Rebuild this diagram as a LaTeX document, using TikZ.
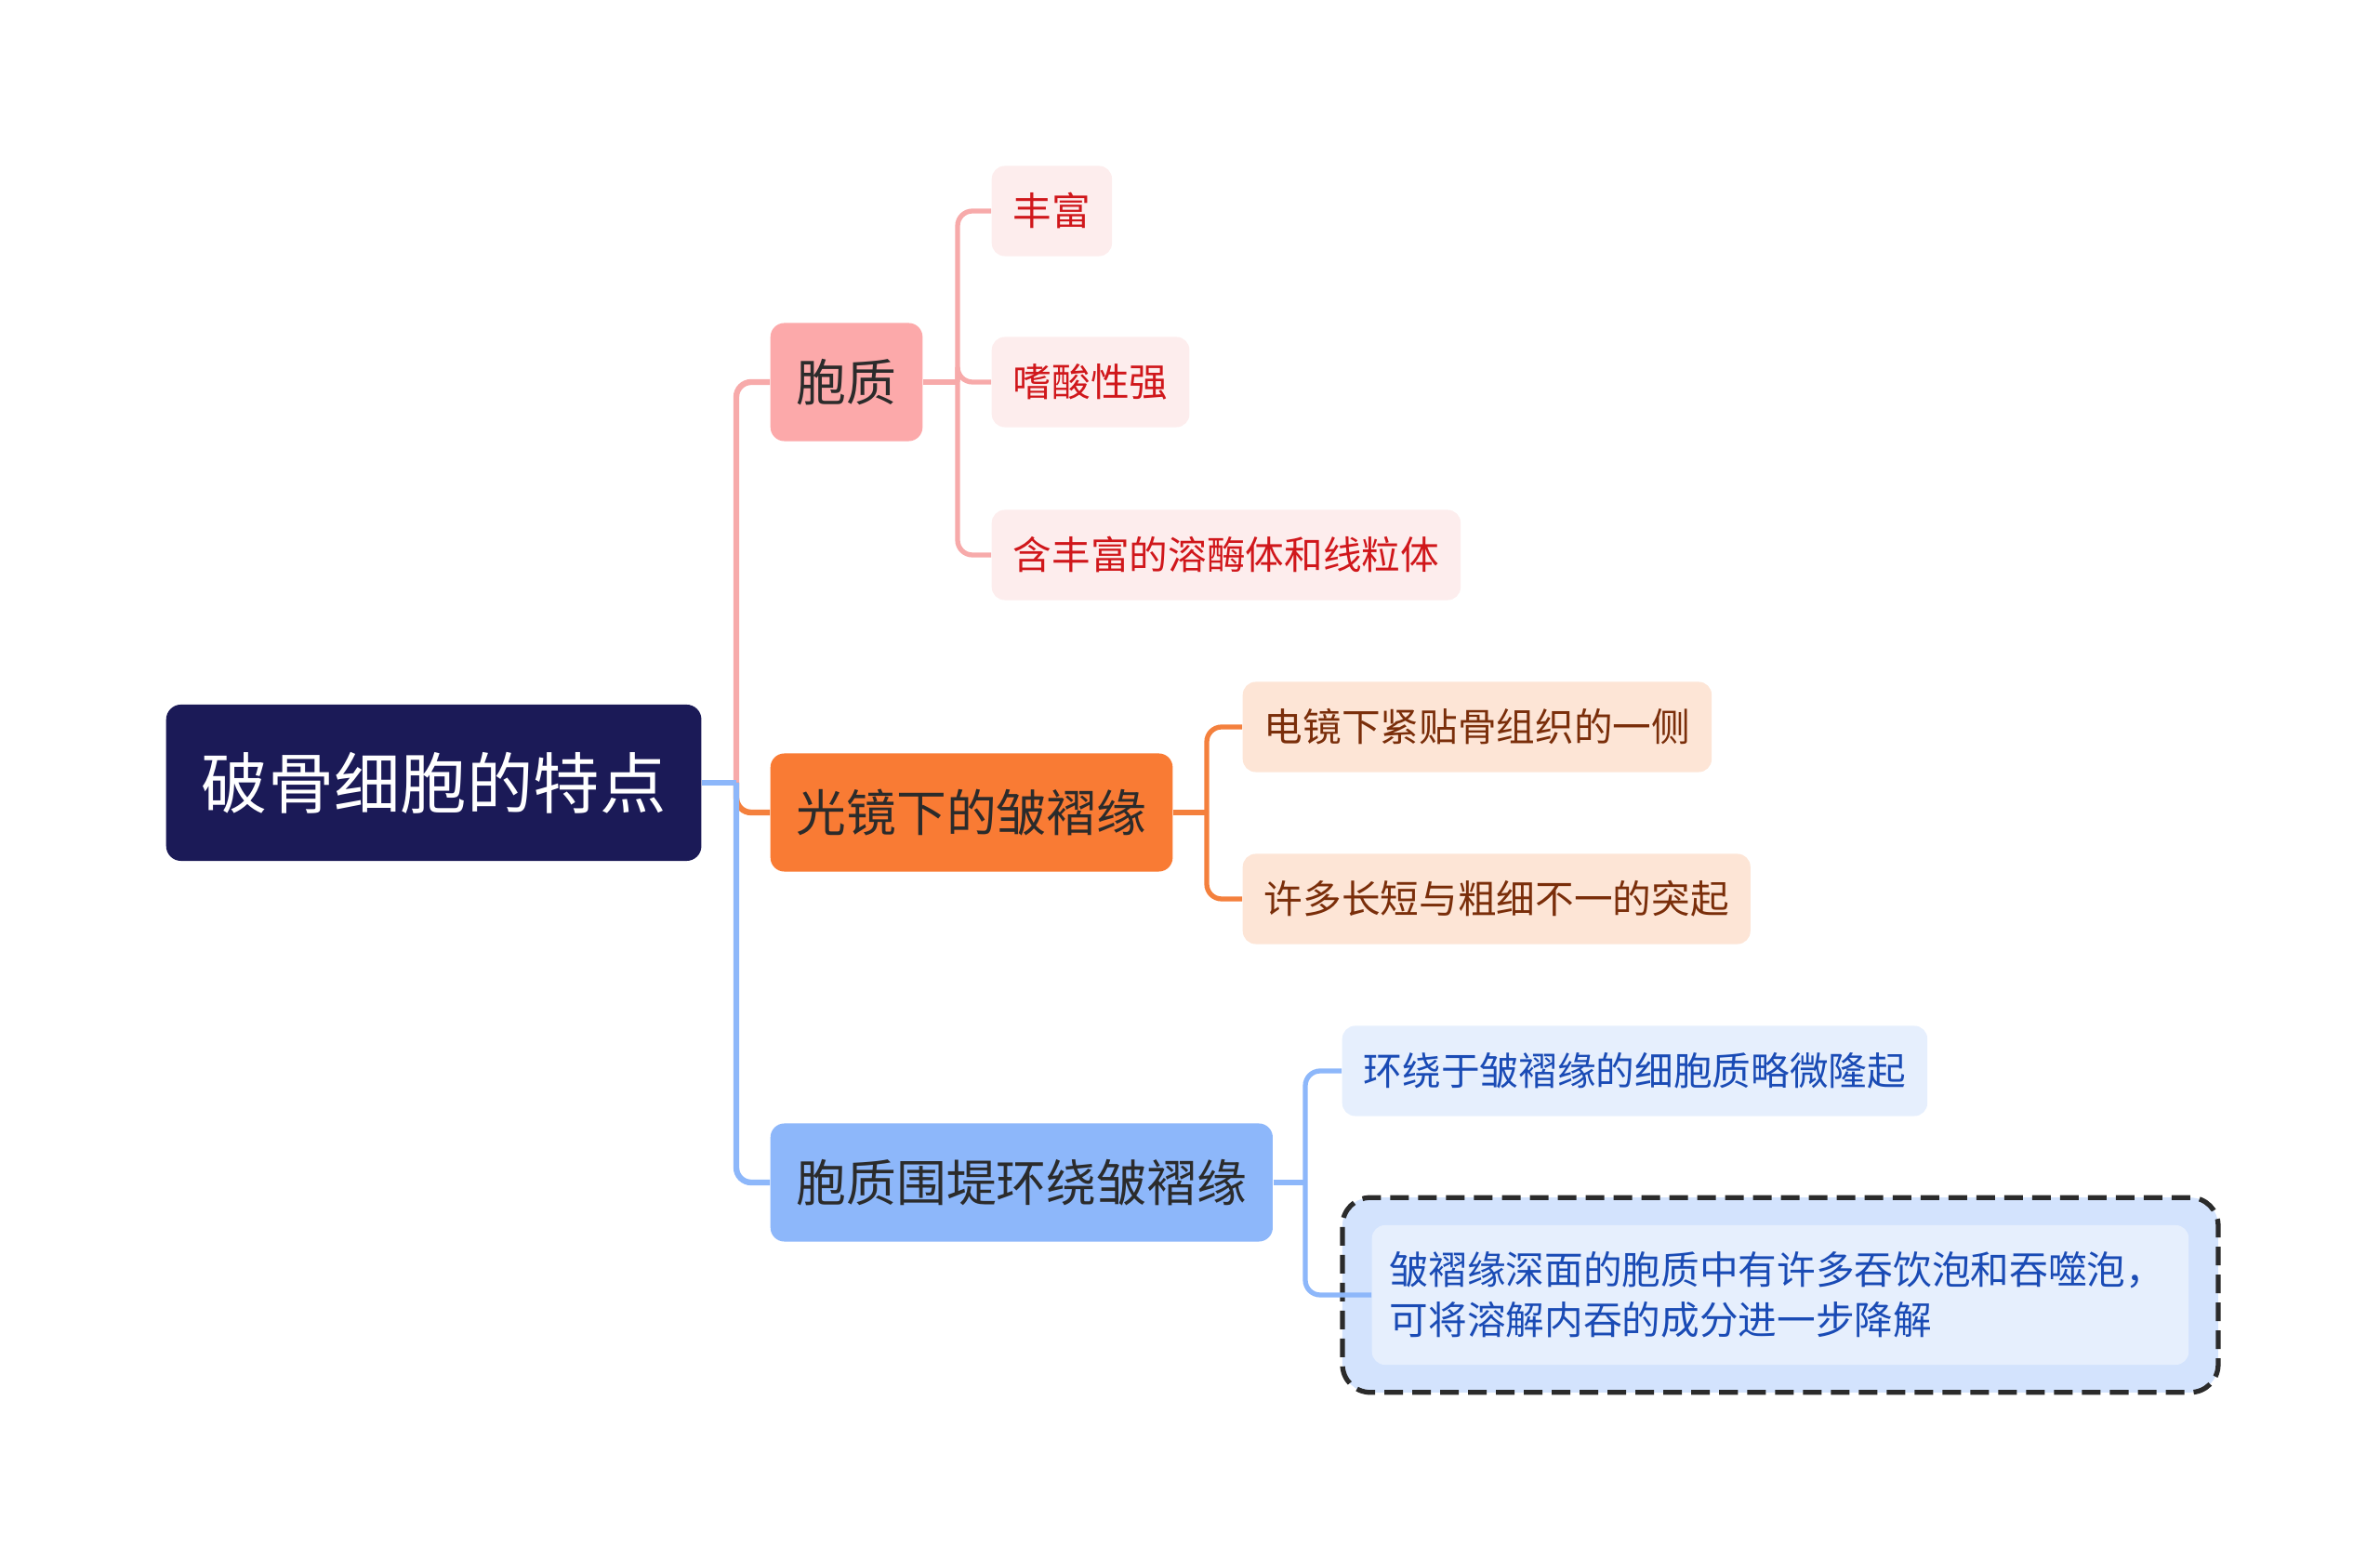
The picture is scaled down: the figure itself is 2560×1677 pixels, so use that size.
\documentclass[tikz,border=0pt]{standalone}
\usepackage{fontspec}
\setmainfont{Noto Sans CJK SC}
\usepackage{tikz}
\usetikzlibrary{positioning, fit, backgrounds}
\definecolor{rootnavy}{HTML}{1B1A57}
\definecolor{pinkmain}{HTML}{FCA9AA}
\definecolor{pinkleaf}{HTML}{FDEDED}
\definecolor{pinktext}{HTML}{D0171B}
\definecolor{pinkline}{HTML}{F7AAAA}
\definecolor{orangemain}{HTML}{F97B34}
\definecolor{orangeleaf}{HTML}{FDE5D6}
\definecolor{orangetext}{HTML}{7A2E0A}
\definecolor{orangeline}{HTML}{F4803D}
\definecolor{bluemain}{HTML}{8DB7FA}
\definecolor{blueleaf}{HTML}{E6EFFD}
\definecolor{bluetext}{HTML}{1A4BB5}
\definecolor{blueline}{HTML}{8DB7FA}
\definecolor{selfill}{HTML}{D3E3FD}
\definecolor{darktext}{HTML}{2B2B2B}

\begin{document}
\begin{tikzpicture}[x=0.01cm, y=-0.01cm,
  every node/.style={font=\fontsize{11.85}{15.4}\selectfont},
  rootbox/.style={fill=rootnavy, text=white, rounded corners=0.16cm,
    minimum height=1.68cm, inner xsep=0.38cm, anchor=west,
    font=\fontsize{20.3}{24}\selectfont},
  topicbox/.style={rounded corners=0.15cm, text=darktext,
    minimum height=1.27cm, inner xsep=0.28cm, anchor=west,
    font=\fontsize{15.3}{18}\selectfont},
  leafbox/.style={rounded corners=0.14cm, minimum height=0.97cm,
    inner xsep=0.23cm, anchor=west},
  mainedge/.style={line width=1.8pt, rounded corners=0.16cm},
  subedge/.style={line width=1.5pt, rounded corners=0.16cm},
  selframe/.style={draw=darktext, fill=selfill, line width=1.5pt,
    dash pattern=on 0.2cm off 0.1cm, rounded corners=0.3cm}
]
\useasboundingbox (0,0) rectangle (2560,1677);

% root and topics
\node[rootbox] (root) at (178, 842) {破骨细胞的特点};
\node[topicbox, fill=pinkmain] (czhi) at (828, 411) {胞质};
\node[topicbox, fill=orangemain] (gjing) at (828, 874) {光镜下的皱褶缘};
\node[topicbox, fill=bluemain] (wdi) at (828, 1272) {胞质围堤环绕皱褶缘};

% leaves
\foreach \n/\y/\t in {l1/227/丰富, l2/411/嗜酸性强, l3/597/含丰富的溶酶体和线粒体} {
  \node[leafbox, fill=pinkleaf, text=pinktext] (\n) at (1066, \y) {\t};
}
\foreach \n/\y/\t in {l4/782/电镜下紧贴骨组织的一侧, l5/967/许多长短与粗细不一的突起} {
  \node[leafbox, fill=orangeleaf, text=orangetext] (\n) at (1336, \y) {\t};
}
\node[leafbox, fill=blueleaf, text=bluetext] (l6) at (1443, 1152) {环绕于皱褶缘的细胞质略微隆起};
\node[leafbox, fill=blueleaf, text=bluetext, text width=8.4cm, align=left,
      inner xsep=0.19cm, minimum height=1.5cm] (l7) at (1475, 1393)
  {皱褶缘深面的胞质中有许多吞饮泡和吞噬泡，\\可将溶解内吞的成分进一步降解};
\begin{scope}[on background layer]
  \node[selframe, fit=(l7), inner xsep=0.31cm, inner ysep=0.29cm] (sel) {};
\end{scope}

% connectors
\coordinate (hub) at (792, 842);
\coordinate (h1) at (1030, 411);
\coordinate (h2) at (1298, 874);
\coordinate (h3) at (1404, 1272);

\draw[mainedge, pinkline] (hub) |- (czhi.west);
\draw[mainedge, orangeline] (hub) |- (gjing.west);
\draw[mainedge, blueline] (hub) |- (wdi.west);
\draw[mainedge, blueline] (root.east) -- (hub);

\draw[subedge, pinkline] (czhi.east) -- (h1);
\foreach \n in {l1, l2, l3} \draw[subedge, pinkline] (h1) |- (\n.west);
\draw[subedge, orangeline] (gjing.east) -- (h2);
\foreach \n in {l4, l5} \draw[subedge, orangeline] (h2) |- (\n.west);
\draw[subedge, blueline] (wdi.east) -- (h3);
\foreach \n in {l6, l7} \draw[subedge, blueline] (h3) |- (\n.west);

\end{tikzpicture}
\end{document}
